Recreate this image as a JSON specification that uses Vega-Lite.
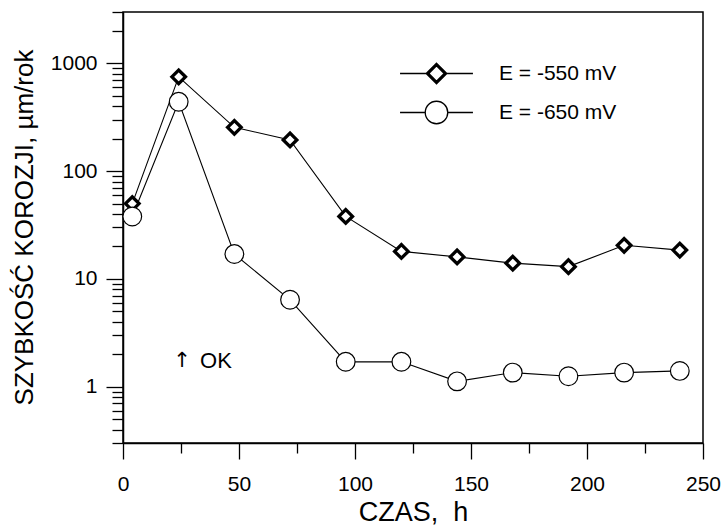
{
  "$schema": "https://vega.github.io/schema/vega-lite/v6.json",
  "width": 580,
  "height": 431,
  "autosize": {"type": "none"},
  "padding": {"left": 123, "top": 12, "right": 22, "bottom": 86},
  "background": "white",
  "config": {
    "view": {"stroke": "black", "strokeWidth": 1.5},
    "axis": {
      "grid": false,
      "domainColor": "black",
      "domainWidth": 1.5,
      "tickColor": "black",
      "tickWidth": 1.3,
      "labelColor": "black",
      "titleColor": "black",
      "labelFont": "Liberation Sans",
      "titleFont": "Liberation Sans",
      "titleFontWeight": "normal",
      "labelFlush": false,
      "labelOverlap": false,
      "labelBound": false
    },
    "legend": {"labelFont": "Liberation Sans", "labelColor": "black"}
  },
  "data": {
    "values": [
      {"t": 4, "v": 50, "seria": "E = -550 mV"},
      {"t": 24, "v": 750, "seria": "E = -550 mV"},
      {"t": 48, "v": 255, "seria": "E = -550 mV"},
      {"t": 72, "v": 195, "seria": "E = -550 mV"},
      {"t": 96, "v": 38, "seria": "E = -550 mV"},
      {"t": 120, "v": 18, "seria": "E = -550 mV"},
      {"t": 144, "v": 16, "seria": "E = -550 mV"},
      {"t": 168, "v": 14, "seria": "E = -550 mV"},
      {"t": 192, "v": 13, "seria": "E = -550 mV"},
      {"t": 216, "v": 20.5, "seria": "E = -550 mV"},
      {"t": 240, "v": 18.5, "seria": "E = -550 mV"},
      {"t": 4, "v": 38, "seria": "E = -650 mV"},
      {"t": 24, "v": 440, "seria": "E = -650 mV"},
      {"t": 48, "v": 17, "seria": "E = -650 mV"},
      {"t": 72, "v": 6.4, "seria": "E = -650 mV"},
      {"t": 96, "v": 1.7, "seria": "E = -650 mV"},
      {"t": 120, "v": 1.7, "seria": "E = -650 mV"},
      {"t": 144, "v": 1.12, "seria": "E = -650 mV"},
      {"t": 168, "v": 1.35, "seria": "E = -650 mV"},
      {"t": 192, "v": 1.25, "seria": "E = -650 mV"},
      {"t": 216, "v": 1.35, "seria": "E = -650 mV"},
      {"t": 240, "v": 1.4, "seria": "E = -650 mV"}
    ]
  },
  "encoding": {
    "x": {
      "field": "t",
      "type": "quantitative",
      "scale": {"domain": [0, 250], "nice": false, "zero": false},
      "axis": {
        "title": "CZAS,\u00a0 h",
        "titleFontSize": 27,
        "titlePadding": 5,
        "labelFontSize": 21,
        "labelPadding": 14,
        "values": [0, 25, 50, 75, 100, 125, 150, 175, 200, 225, 250],
        "labelExpr": "datum.value % 50 == 0 ? '' + datum.value : ''",
        "tickSize": {"condition": {"test": "datum.value % 50 == 0", "value": 16}, "value": 10}
      }
    },
    "y": {
      "field": "v",
      "type": "quantitative",
      "scale": {"type": "log", "domain": [0.3, 3000], "nice": false},
      "axis": {
        "title": "SZYBKOŚĆ KOROZJI, µm/rok",
        "titleFontSize": 26,
        "titleX": -99,
        "titleY": 215,
        "titleAngle": -90,
        "titleAlign": "center",
        "titleBaseline": "middle",
        "labelFontSize": 21,
        "labelPadding": 9,
        "values": [0.3, 0.4, 0.5, 0.6, 0.7, 0.8, 0.9, 1, 2, 3, 4, 5, 6, 7, 8, 9, 10, 20, 30, 40, 50, 60, 70, 80, 90, 100, 200, 300, 400, 500, 600, 700, 800, 900, 1000, 2000, 3000],
        "labelExpr": "(datum.value == 1 || datum.value == 10 || datum.value == 100 || datum.value == 1000) ? '' + datum.value : ''",
        "tickSize": {"condition": {"test": "datum.value == 1 || datum.value == 10 || datum.value == 100 || datum.value == 1000", "value": 17}, "value": 11}
      }
    }
  },
  "layer": [
    {
      "mark": {"type": "line", "color": "black", "strokeWidth": 1.1},
      "encoding": {"detail": {"field": "seria", "type": "nominal"}}
    },
    {
      "transform": [{"filter": "datum.seria == 'E = -550 mV'"}],
      "mark": {"type": "point", "shape": "diamond", "filled": true, "fill": "white", "stroke": "black", "opacity": 1, "size": 185, "strokeWidth": 3.3}
    },
    {
      "transform": [{"filter": "datum.seria == 'E = -650 mV'"}],
      "mark": {"type": "point", "shape": "circle", "filled": true, "fill": "white", "stroke": "black", "opacity": 1, "size": 350, "strokeWidth": 1.2}
    },
    {
      "mark": {"type": "point", "filled": false, "stroke": "black", "opacity": 0, "size": 324},
      "encoding": {
        "shape": {
          "field": "seria",
          "type": "nominal",
          "scale": {
            "domain": ["E = -550 mV", "E = -650 mV"],
            "range": [
              "M-4.05,0H-1.15M1.15,0H4.05M0,-1.15L1.15,0L0,1.15L-1.15,0ZM0,-1L1,0L0,1L-1,0ZM0,-0.85L0.85,0L0,0.85L-0.85,0Z",
              "M-4.05,0H-1.25M1.25,0H4.05M1.25,0A1.25,1.25,0,1,1,-1.25,0A1.25,1.25,0,1,1,1.25,0Z"
            ]
          },
          "legend": {
            "orient": "none",
            "legendX": 303,
            "legendY": 51,
            "title": null,
            "padding": 0,
            "symbolSize": 324,
            "symbolStrokeWidth": 1.3,
            "symbolStrokeColor": "black",
            "symbolFillColor": "white",
            "symbolOpacity": 1,
            "labelFontSize": 21,
            "labelOffset": 52,
            "rowPadding": 11,
            "encode": {
              "symbols": {
                "strokeWidth": {"value": 1.3},
                "stroke": {"value": "black"},
                "fill": {"value": "white"},
                "opacity": {"value": 1}
              }
            }
          }
        }
      }
    },
    {
      "data": {"values": [{"t": 25.4, "v": 1.73, "napis": "↑"}]},
      "mark": {"type": "text", "align": "center", "baseline": "middle", "font": "DejaVu Sans", "fontSize": 21, "color": "black"},
      "encoding": {"text": {"field": "napis", "type": "nominal"}}
    },
    {
      "data": {"values": [{"t": 33.2, "v": 1.73, "napis": "OK"}]},
      "mark": {"type": "text", "align": "left", "baseline": "middle", "font": "Liberation Sans", "fontSize": 22, "color": "black"},
      "encoding": {"text": {"field": "napis", "type": "nominal"}}
    }
  ]
}
